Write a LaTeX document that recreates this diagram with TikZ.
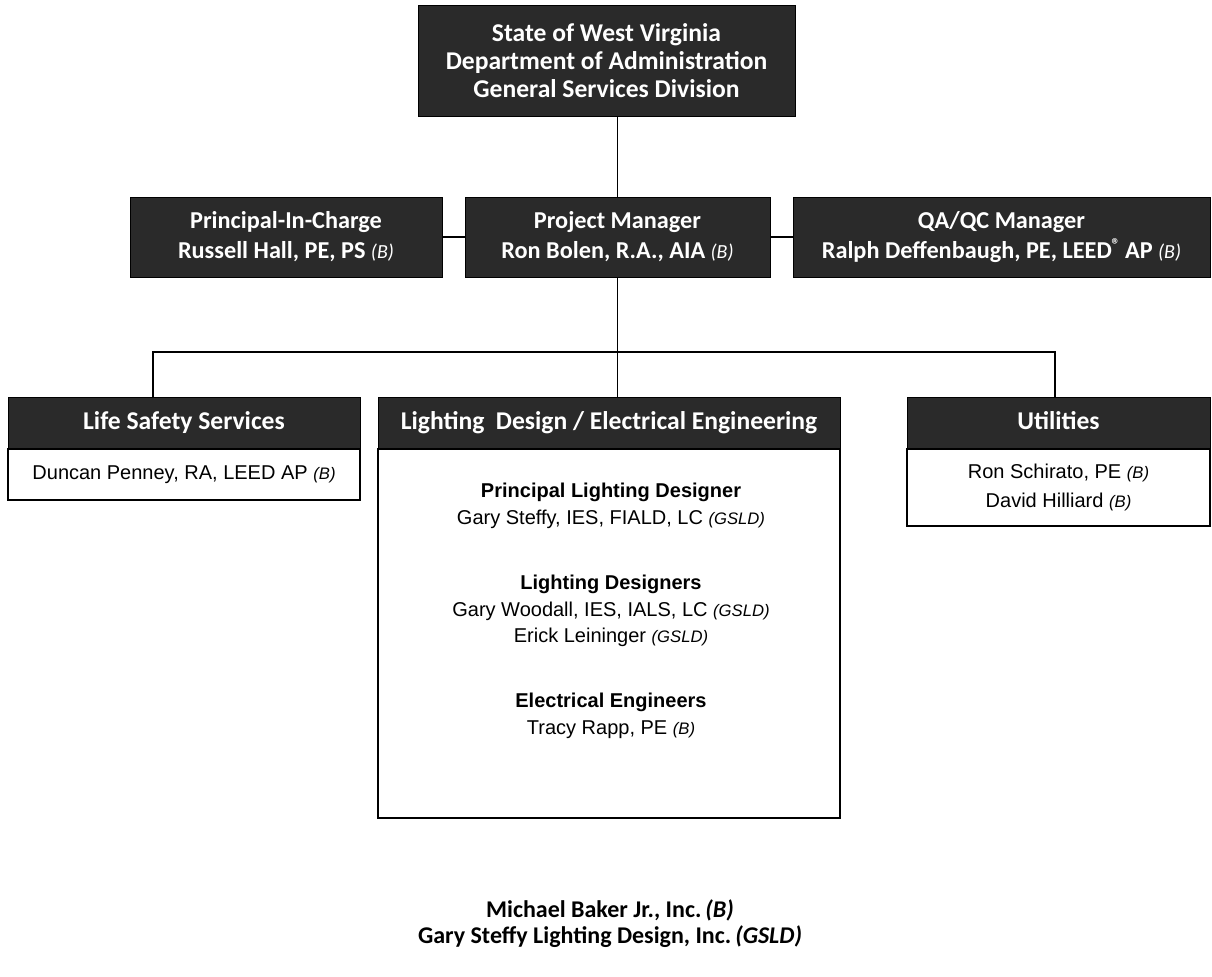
\documentclass[tikz,border=0pt]{standalone}
\usepackage{fontspec}
\setmainfont{Liberation Sans}
\newfontfamily\hdfont{Carlito}
\usepackage{xcolor}
\definecolor{mBoxDark}{HTML}{2A2A2A}
\usetikzlibrary{positioning,calc}
\newcommand{\firm}[1]{{\itshape\fontsize{12.5}{12}\selectfont(#1)}}
\newcommand{\hdfirm}[1]{{\mdseries\itshape\fontsize{15}{15}\selectfont(#1)}}

\begin{document}
\begin{tikzpicture}[x=0.75pt, y=-0.75pt,
  darkbox/.style={draw=black, fill=mBoxDark, text=white, inner sep=0pt, align=center, font=\hdfont\bfseries\fontsize{19.2}{21}\selectfont},
  rowbox/.style={darkbox, font=\hdfont\bfseries\fontsize{18.2}{22.5}\selectfont},
  hdbox/.style={darkbox, text height=13pt, text depth=4pt},
  namebox/.style={draw=black, line width=0.9pt, fill=white, inner sep=0pt, align=center, font=\fontsize{15}{22}\selectfont},
  nametext/.style={align=center, inner sep=0pt, font=\fontsize{15}{20}\selectfont},
  conn/.style={draw=black, line width=0.9pt}]
\useasboundingbox (0,0) rectangle (1212,976);
% client
\node[darkbox, minimum width=282.75pt, minimum height=83.25pt] (wv) at (606.5,60.5) {State of West Virginia\\Department of Administration\\General Services Division};
% management row
\node[rowbox, minimum width=234pt, minimum height=60pt] (pic) at (286,237) {Principal-In-Charge\\Russell Hall, PE, PS \hdfirm{B}};
\node[rowbox, minimum width=228.75pt, minimum height=60pt] (pm) at (617.5,237) {Project Manager\\Ron Bolen, R.A., AIA \hdfirm{B}};
\node[rowbox, minimum width=312.75pt, minimum height=60pt] (qa) at (1001.5,237) {QA/QC Manager\\Ralph Deffenbaugh, PE, LEED\textsuperscript{\textregistered}\,AP \hdfirm{B}};
% disciplines
\node[hdbox, minimum width=264pt, minimum height=39pt] (lssh) at (184,423) {Life Safety Services};
\node[namebox, minimum width=264pt, minimum height=38.25pt] (lssb) at (184,474.5) {Duncan Penney, RA, LEED AP \firm{B}};
\node[hdbox, minimum width=346.5pt, minimum height=39pt] (ldeeh) at (609,423) {Lighting~ Design / Electrical Engineering};
\node[namebox, minimum width=346.5pt, minimum height=276.75pt] (ldeeb) at (609,633.5) {};
\node[hdbox, minimum width=227.25pt, minimum height=39pt] (utilh) at (1058.5,423) {Utilities};
\node[namebox, minimum width=227.25pt, minimum height=57.75pt] (utilb) at (1058.5,487.5) {Ron Schirato, PE \firm{B}\\David Hilliard \firm{B}};
% lighting / electrical team
\node[nametext] (pld) at (611,506) {\textbf{Principal Lighting Designer}\\Gary Steffy, IES, FIALD, LC \firm{GSLD}};
\node[nametext] (ld) at (611,611) {\textbf{Lighting Designers}\\Gary Woodall, IES, IALS, LC \firm{GSLD}\\Erick Leininger \firm{GSLD}};
\node[nametext] (ee) at (611,716) {\textbf{Electrical Engineers}\\Tracy Rapp, PE \firm{B}};
% firms
\node[align=center, inner sep=0pt, font=\hdfont\bfseries\fontsize{18}{20}\selectfont] (firms) at (610,923.5) {Michael Baker Jr., Inc.\,\textit{(B)}\\Gary Steffy Lighting Design, Inc.\,\textit{(GSLD)}};
% connectors
\draw[conn] (pm.north |- wv.south) -- (pm.north);
\draw[conn] (pic.east) -- (pm.west);
\draw[conn] (pm.east) -- (qa.west);
\coordinate (busL) at (153,352);
\coordinate (busR) at (1055,352);
\draw[conn] (pm.south) -- (pm.south |- busL);
\draw[conn] (busL |- lssh.north) -- (busL) -- (busR) -- (busR |- utilh.north);
\draw[conn] (pm.south |- busL) -- (pm.south |- ldeeh.north);
\end{tikzpicture}
\end{document}
